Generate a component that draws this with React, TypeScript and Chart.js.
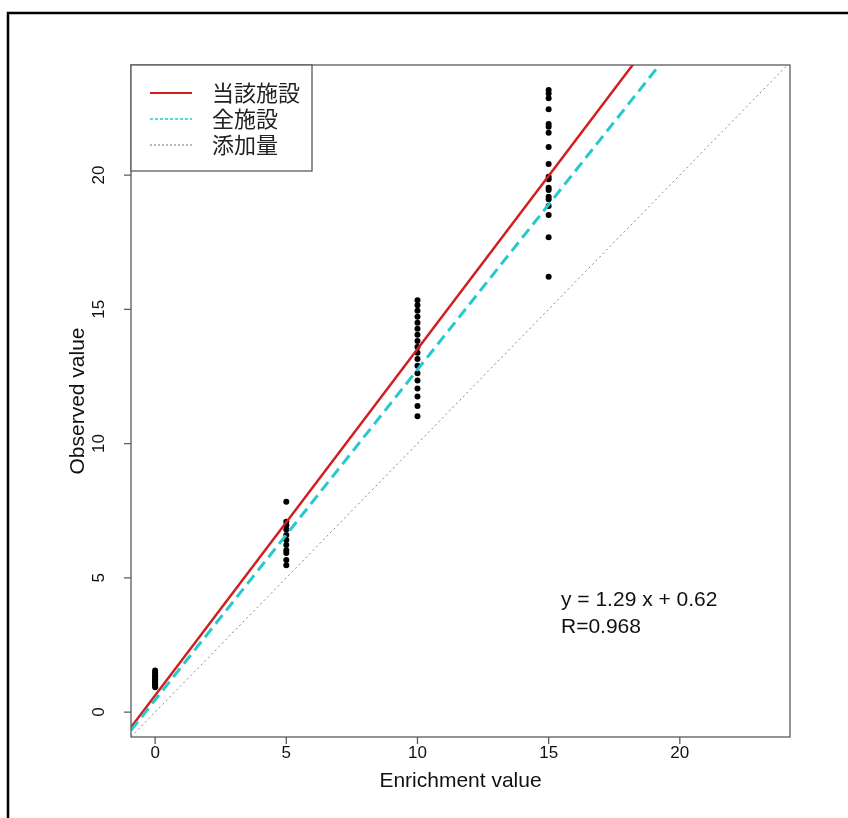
import React, { useEffect, useRef } from "react";
import { Chart, registerables } from "chart.js";

Chart.register(...registerables);

// ---- data ----
const enrichmentLevels = [0, 5, 10, 15];
const observedAt0 = [0.92, 0.98, 1.03, 1.08, 1.12, 1.17, 1.22, 1.28, 1.33, 1.4, 1.47, 1.55];
const observedAt5 = [7.83, 7.09, 6.96, 6.8, 6.59, 6.41, 6.22, 6.03, 5.92, 5.66, 5.47];
const observedAt10 = [15.34, 15.15, 14.95, 14.72, 14.5, 14.28, 14.05, 13.82, 13.6, 13.38, 13.15, 12.9, 12.62, 12.35, 12.05, 11.75, 11.4, 11.02];
const observedAt15 = [23.17, 23.04, 22.86, 22.45, 21.9, 21.8, 21.58, 21.05, 20.41, 19.94, 19.84, 19.53, 19.44, 19.19, 19.1, 18.85, 18.51, 17.68, 16.21];

const xTicks = [0, 5, 10, 15, 20];
const yTicks = [0, 5, 10, 15, 20];
const xRange = [-0.92, 24.2];
const yRange = [-0.93, 24.1];

// regression line endpoints (当該施設: y = 1.29x + 0.62)
const facilityLineX = [-0.92, 24.2];
const facilityLineY = [-0.57, 31.84];
// all facilities line endpoints
const allFacilityLineX = [-0.92, 24.2];
const allFacilityLineY = [-0.68, 30.22];
// identity (spike amount) line endpoints
const spikeLineX = [-0.92, 24.2];
const spikeLineY = [-0.92, 24.2];

const legendLabels = ["当該施設", "全施設", "添加量"];
const equationLines = ["y = 1.29 x + 0.62", "R=0.968"];
const xTitle = "Enrichment value";
const yTitle = "Observed value";

const RED = "#d11f1f";
const CYAN = "#27c9cf";
const GRAY = "#8a8a8a";

const LATIN = "'Liberation Sans', Arial, Helvetica, sans-serif";
const CJK = "'Noto Sans CJK JP', 'Noto Sans', sans-serif";

const decorPlugin = {
  id: "rdecor",
  beforeDraw(chart: any) {
    const ctx = chart.ctx;
    ctx.save();
    ctx.fillStyle = "#ffffff";
    ctx.fillRect(0, 0, chart.width, chart.height);
    ctx.strokeStyle = "#000";
    ctx.lineWidth = 2.5;
    ctx.beginPath();
    ctx.moveTo(8, chart.height + 10);
    ctx.lineTo(8, 13);
    ctx.lineTo(chart.width + 10, 13);
    ctx.stroke();
    ctx.restore();
  },
  afterDraw(chart: any) {
    const ctx = chart.ctx;
    const a = chart.chartArea;
    const xs = chart.scales.x;
    const ys = chart.scales.y;
    ctx.save();
    // plot box
    ctx.strokeStyle = "#5a5a5a";
    ctx.lineWidth = 1.3;
    ctx.setLineDash([]);
    ctx.strokeRect(a.left, a.top, a.right - a.left, a.bottom - a.top);

    // x axis ticks + labels
    ctx.fillStyle = "#111";
    ctx.font = `17px ${LATIN}`;
    ctx.textAlign = "center";
    ctx.textBaseline = "middle";
    ctx.beginPath();
    for (const t of xTicks) {
      const px = xs.getPixelForValue(t);
      ctx.moveTo(px, a.bottom);
      ctx.lineTo(px, a.bottom + 7);
      ctx.fillText(String(t), px, a.bottom + 16);
    }
    ctx.stroke();

    // y axis ticks + labels (rotated)
    ctx.beginPath();
    for (const t of yTicks) {
      const py = ys.getPixelForValue(t);
      ctx.moveTo(a.left, py);
      ctx.lineTo(a.left - 7, py);
    }
    ctx.stroke();
    for (const t of yTicks) {
      const py = ys.getPixelForValue(t);
      ctx.save();
      ctx.translate(a.left - 32, py);
      ctx.rotate(-Math.PI / 2);
      ctx.fillText(String(t), 0, 0);
      ctx.restore();
    }

    // axis titles
    ctx.font = `21px ${LATIN}`;
    ctx.fillText(xTitle, (a.left + a.right) / 2, a.bottom + 44);
    ctx.save();
    ctx.translate(a.left - 53, (a.top + a.bottom) / 2);
    ctx.rotate(-Math.PI / 2);
    ctx.fillText(yTitle, 0, 0);
    ctx.restore();

    // legend box
    const lx = a.left, ly = a.top, lw = 181, lh = 106;
    ctx.fillStyle = "#fff";
    ctx.fillRect(lx, ly, lw, lh);
    ctx.strokeStyle = "#5a5a5a";
    ctx.lineWidth = 1.3;
    ctx.strokeRect(lx, ly, lw, lh);
    const rowsY = [ly + 28, ly + 54, ly + 80];
    const styles = [
      { c: RED, w: 2, d: [] as number[] },
      { c: CYAN, w: 1.6, d: [3, 2] },
      { c: GRAY, w: 1.2, d: [2, 2] },
    ];
    legendLabels.forEach((lab, i) => {
      const s = styles[i];
      ctx.strokeStyle = s.c;
      ctx.lineWidth = s.w;
      ctx.setLineDash(s.d);
      ctx.beginPath();
      ctx.moveTo(lx + 19, rowsY[i]);
      ctx.lineTo(lx + 61, rowsY[i]);
      ctx.stroke();
      ctx.setLineDash([]);
      ctx.fillStyle = "#222";
      ctx.font = `22px ${CJK}`;
      ctx.textAlign = "left";
      ctx.textBaseline = "middle";
      ctx.fillText(lab, lx + 81, rowsY[i]);
    });

    // equation text
    ctx.fillStyle = "#111";
    ctx.font = `21px ${LATIN}`;
    ctx.textAlign = "left";
    ctx.textBaseline = "middle";
    ctx.fillText(equationLines[0], 561, 600);
    ctx.fillText(equationLines[1], 561, 627);
    ctx.restore();
  },
};

function pairs(xsArr: number[], ysArr: number[]) {
  return xsArr.map((x, i) => ({ x, y: ysArr[i] }));
}

export default function App() {
  const ref = useRef<HTMLCanvasElement | null>(null);
  useEffect(() => {
    document.body.style.margin = "0";
    const canvas = ref.current;
    if (!canvas) return;
    const groups = [observedAt0, observedAt5, observedAt10, observedAt15];
    const points: { x: number; y: number }[] = [];
    groups.forEach((g, i) => g.forEach((v) => points.push({ x: enrichmentLevels[i], y: v })));

    const chart = new Chart(canvas, {
      type: "scatter",
      data: {
        datasets: [
          {
            label: legendLabels[2],
            data: pairs(spikeLineX, spikeLineY),
            showLine: true,
            borderColor: GRAY,
            borderWidth: 1,
            borderDash: [2, 3],
            pointRadius: 0,
            clip: 0,
            order: 0,
          } as any,
          {
            label: legendLabels[1],
            data: pairs(allFacilityLineX, allFacilityLineY),
            showLine: true,
            borderColor: CYAN,
            borderWidth: 3,
            borderDash: [11, 6],
            pointRadius: 0,
            clip: 0,
            order: 1,
          },
          {
            label: legendLabels[0],
            data: pairs(facilityLineX, facilityLineY),
            showLine: true,
            borderColor: RED,
            borderWidth: 2.5,
            pointRadius: 0,
            clip: 0,
            order: 2,
          },
          {
            label: "observed",
            data: points,
            pointRadius: 3,
            pointBackgroundColor: "#000",
            pointBorderColor: "#000",
            pointBorderWidth: 0,
            order: 3,
          },
        ],
      },
      options: {
        responsive: false,
        animation: false,
        devicePixelRatio: 1,
        layout: { padding: { left: 131, top: 65, right: 58, bottom: 81 } },
        plugins: { legend: { display: false }, tooltip: { enabled: false } },
        scales: {
          x: { type: "linear", min: xRange[0], max: xRange[1], display: false },
          y: { type: "linear", min: yRange[0], max: yRange[1], display: false },
        },
      },
      plugins: [decorPlugin],
    });
    return () => chart.destroy();
  }, []);
  return <canvas ref={ref} width={848} height={818} style={{ display: "block" }} />;
}
